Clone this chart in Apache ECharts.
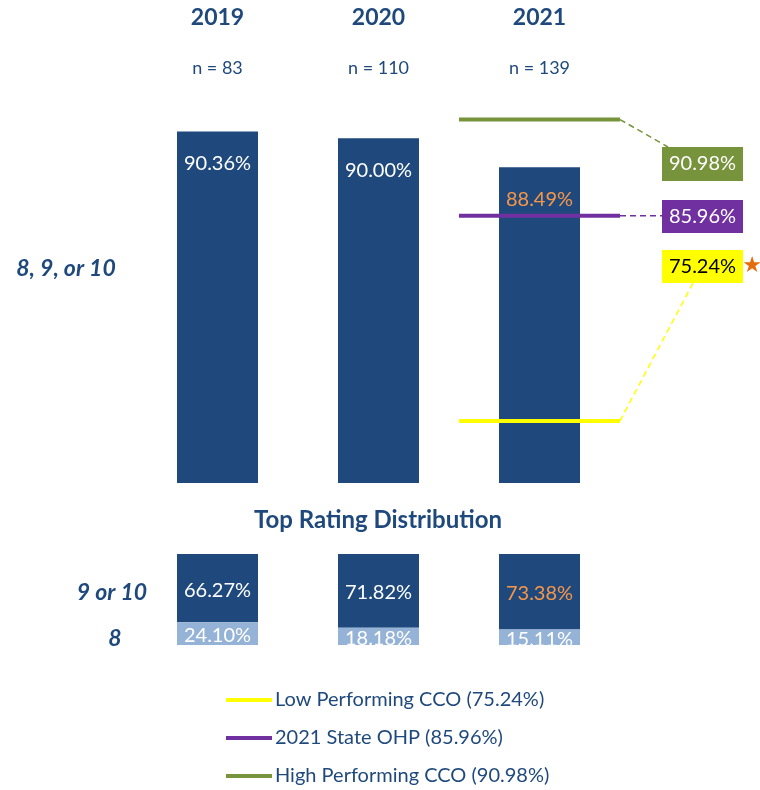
<!DOCTYPE html>
<html>
<head>
<meta charset="utf-8">
<script src="https://cdn.jsdelivr.net/npm/echarts@6/dist/echarts.min.js"></script>
<style>
html,body{margin:0;padding:0;background:#fff;}
#chart{width:760px;height:790px;}
</style>
</head>
<body>
<div id="chart"></div>
<script>
// ---- data ----
const years = ['2019', '2020', '2021'];
const sampleSizes = [83, 110, 139];
const overallPct = [90.36, 90.00, 88.49];          // 8, 9, or 10
const pct9or10 = [66.27, 71.82, 73.38];            // 9 or 10
const pct8 = [24.10, 18.18, 15.11];                // 8
const refNames = ['Low Performing CCO (75.24%)', '2021 State OHP (85.96%)', 'High Performing CCO (90.98%)'];
const refValues = [75.24, 85.96, 90.98];
const refYear = '2021';
const highlightYear = '2021';

// ---- styles / layout ----
const FONT = 'Lato';
const DARK = '#1F497D';
const LIGHT = '#95B3D7';
const ORANGE = '#F79646';
const TXT = '#1F497D';
const refColors = ['#FFFF00', '#7030A0', '#77933C'];
const refTextColors = ['#000000', '#FFFFFF', '#FFFFFF'];
const refBoxes = [
  { x: 662, y: 250, w: 81, h: 33, anchor: [693, 283] },
  { x: 662, y: 200, w: 81, h: 33, anchor: [662, null] },
  { x: 662, y: 147, w: 81, h: 34, anchor: [668, 147] }
];

const hi = years.indexOf(highlightYear);
const pctLabel = v => v.toFixed(2) + '%';

function barData(arr) {
  return arr.map((v, i) => i === hi ? { value: v, label: { color: ORANGE } } : v);
}

function refRender(idx) {
  return function (params, api) {
    const v = api.value(1);
    const c = api.coord([api.value(0), v]);
    const bw = api.size([1, 0])[0];
    const x0 = c[0] - bw / 2, x1 = c[0] + bw / 2;
    const b = refBoxes[idx];
    const ax = b.anchor[0], ay = b.anchor[1] == null ? c[1] : b.anchor[1];
    const col = refColors[idx];
    const children = [
      { type: 'line', shape: { x1: x0, y1: c[1], x2: x1, y2: c[1] }, style: { stroke: col, lineWidth: 4 } },
      { type: 'line', shape: { x1: x1, y1: c[1], x2: ax, y2: ay }, style: { stroke: col, lineWidth: 1.5, lineDash: [6, 4] } },
      { type: 'rect', shape: { x: b.x, y: b.y, width: b.w, height: b.h }, style: { fill: col } },
      { type: 'text', x: b.x + b.w / 2, y: b.y + b.h / 2,
        style: { text: pctLabel(v), fill: refTextColors[idx], font: '20px ' + FONT, align: 'center', verticalAlign: 'middle' } }
    ];
    if (idx === 0) {
      children.push({ type: 'text', x: b.x + b.w + 9, y: b.y + b.h / 2,
        style: { text: '\u2605', fill: '#E46C0A', font: '22px "DejaVu Sans"', align: 'center', verticalAlign: 'middle' } });
    }
    return { type: 'group', children };
  };
}

const refSeries = refNames.map((name, i) => ({
  name,
  type: 'custom',
  xAxisIndex: 0,
  yAxisIndex: 0,
  itemStyle: { color: refColors[i] },
  renderItem: refRender(i),
  data: [[refYear, refValues[i]]],
  z: 5,
  silent: true
}));

const chart = echarts.init(document.getElementById('chart'), null, { renderer: 'canvas' });
chart.setOption({
  animation: false,
  textStyle: { fontFamily: FONT },
  grid: [
    { left: 137, width: 483, top: 100, height: 383 },
    { left: 137, width: 483, top: 554, height: 91 }
  ],
  xAxis: [
    { gridIndex: 0, type: 'category', data: years, position: 'top',
      axisLine: { show: false }, axisTick: { show: false },
      axisLabel: {
        interval: 0, margin: 6,
        formatter: (val, idx) => '{y|' + val + '}\n{n|n = ' + sampleSizes[idx] + '}',
        rich: {
          y: { fontFamily: FONT, fontSize: 23, fontWeight: 'bold', color: TXT, lineHeight: 51 },
          n: { fontFamily: FONT, fontSize: 18, color: TXT, lineHeight: 51 }
        }
      } },
    { gridIndex: 1, type: 'category', data: years, show: false }
  ],
  yAxis: [
    { gridIndex: 0, type: 'value', min: 72, max: 92, show: false, splitLine: { show: false } },
    { gridIndex: 1, type: 'value', min: 0, max: 88.5, inverse: true, show: false, splitLine: { show: false } }
  ],
  legend: {
    data: refNames,
    orient: 'vertical',
    left: 226, top: 690, padding: 0, height: 100,
    icon: 'rect', itemWidth: 46, itemHeight: 4, itemGap: 18,
    textStyle: { fontFamily: FONT, fontSize: 20, color: TXT, lineHeight: 20, padding: [0, 0, 0, -2] }
  },
  series: [
    { name: '8, 9, or 10', type: 'bar', xAxisIndex: 0, yAxisIndex: 0, barWidth: 81,
      itemStyle: { color: DARK },
      label: { show: true, position: 'insideTop', distance: 22, color: '#fff', fontFamily: FONT, fontSize: 20,
        formatter: p => pctLabel(p.value) },
      data: barData(overallPct) },
    { name: '9 or 10', type: 'bar', xAxisIndex: 1, yAxisIndex: 1, stack: 'dist', barWidth: 81,
      itemStyle: { color: DARK },
      label: { show: true, position: 'inside', offset: [0, 2], color: '#fff', fontFamily: FONT, fontSize: 20,
        formatter: p => pctLabel(p.value) },
      data: barData(pct9or10) },
    { name: '8', type: 'bar', xAxisIndex: 1, yAxisIndex: 1, stack: 'dist', barWidth: 81,
      itemStyle: { color: LIGHT },
      label: { show: true, position: 'inside', offset: [0, 2], color: '#fff', fontFamily: FONT, fontSize: 20,
        formatter: p => pctLabel(p.value) },
      data: pct8 },
    ...refSeries
  ],
  graphic: [
    { type: 'rect', z: 100, shape: { x: 130, y: 645.5, width: 500, height: 22 }, style: { fill: '#fff' } },
    { type: 'text', z: 100, x: 66, y: 269, style: { text: '8, 9, or 10', font: 'italic bold 23px ' + FONT, fill: TXT, align: 'center', verticalAlign: 'middle' } },
    { type: 'text', z: 100, x: 378, y: 520, style: { text: 'Top Rating Distribution', font: 'bold 24px ' + FONT, fill: TXT, align: 'center', verticalAlign: 'middle' } },
    { type: 'text', z: 100, x: 112, y: 593, style: { text: '9 or 10', font: 'italic bold 23px ' + FONT, fill: TXT, align: 'center', verticalAlign: 'middle' } },
    { type: 'text', z: 100, x: 115, y: 639, style: { text: '8', font: 'italic bold 23px ' + FONT, fill: TXT, align: 'center', verticalAlign: 'middle' } }
  ]
});
</script>
</body>
</html>
